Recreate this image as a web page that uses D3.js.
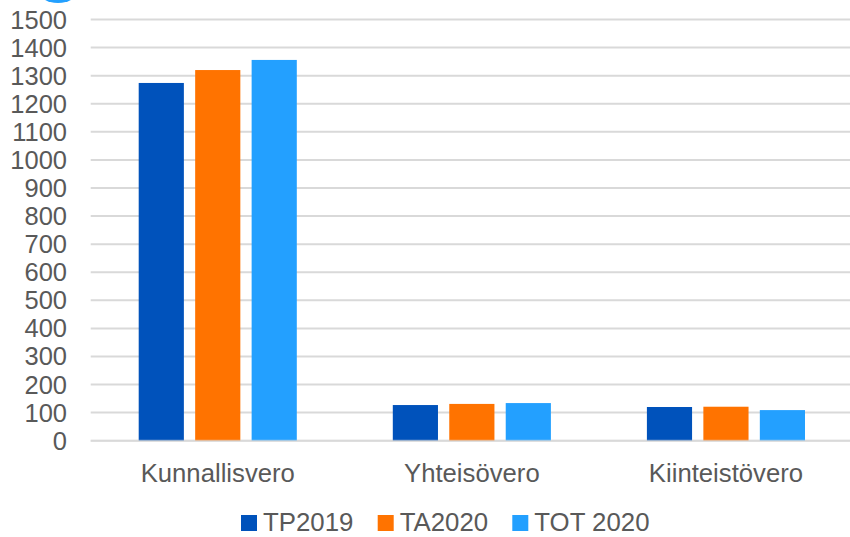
<!DOCTYPE html>
<html>
<head>
<meta charset="utf-8">
<script src="https://cdn.jsdelivr.net/npm/d3@7"></script>
<style>
  html, body { margin: 0; padding: 0; background: #fff; }
  svg { display: block; font-family: "Liberation Sans", Arial, sans-serif; }
</style>
</head>
<body>
<svg id="chart" width="850" height="537"></svg>
<script>
const categories = ["Kunnallisvero", "Yhteisövero", "Kiinteistövero"];
const seriesNames = ["TP2019", "TA2020", "TOT 2020"];
const tp2019 = [1274, 127, 120];
const ta2020 = [1320, 131, 121];
const tot2020 = [1356, 134, 109];
const yTicks = [0, 100, 200, 300, 400, 500, 600, 700, 800, 900, 1000, 1100, 1200, 1300, 1400, 1500];
const colors = ["#0052BB", "#FF7300", "#23A0FF"];

const seriesValues = [tp2019, ta2020, tot2020];
const data = categories.map((c, i) => ({
  category: c,
  values: seriesNames.map((s, j) => ({ series: s, value: seriesValues[j][i], color: colors[j] }))
}));

const svg = d3.select("#chart");
const W = 850, H = 537;
const plotLeft = 90.7, plotRight = 853;

// decorative blob at top-left (partially visible in the reference)
svg.append("ellipse")
  .attr("cx", 58).attr("cy", -10).attr("rx", 20).attr("ry", 13)
  .attr("fill", "#23A0FF");

const y = d3.scaleLinear().domain([0, 1500]).range([440.7, 19.5]);
const x0 = d3.scaleBand().domain(categories).range([plotLeft, plotRight]);
const x1 = d3.scaleBand().domain(seriesNames).range([48, x0.bandwidth() - 48]).paddingInner(0.2);

// gridlines
svg.append("g").selectAll("line")
  .data(yTicks)
  .join("line")
  .attr("x1", plotLeft).attr("x2", W)
  .attr("y1", d => y(d)).attr("y2", d => y(d))
  .attr("stroke", "#d9d9d9").attr("stroke-width", 2);

// y tick labels
svg.append("g").selectAll("text")
  .data(yTicks)
  .join("text")
  .attr("x", 67).attr("y", d => y(d) + 9)
  .attr("text-anchor", "end")
  .attr("font-size", 25.5)
  .attr("fill", "#595959")
  .text(d => d);

// bars
const groups = svg.append("g").selectAll("g")
  .data(data)
  .join("g")
  .attr("transform", d => `translate(${x0(d.category)},0)`);

groups.selectAll("rect")
  .data(d => d.values)
  .join("rect")
  .attr("x", d => x1(d.series))
  .attr("width", x1.bandwidth())
  .attr("y", d => y(d.value))
  .attr("height", d => y(0) - y(d.value))
  .attr("fill", d => d.color);

// baseline over bars
svg.append("line")
  .attr("x1", plotLeft).attr("x2", W)
  .attr("y1", y(0)).attr("y2", y(0))
  .attr("stroke", "#d9d9d9").attr("stroke-width", 2).attr("stroke-opacity", 0.6);

// category labels
svg.append("g").selectAll("text")
  .data(categories)
  .join("text")
  .attr("x", d => x0(d) + x0.bandwidth() / 2)
  .attr("y", 482)
  .attr("text-anchor", "middle")
  .attr("font-size", 25.7)
  .attr("fill", "#595959")
  .text(d => d);

// legend
const legendX = [241, 377.7, 512.3];
const legend = svg.append("g").selectAll("g")
  .data(seriesNames)
  .join("g")
  .attr("transform", (d, i) => `translate(${legendX[i]},0)`);
legend.append("rect")
  .attr("x", 0).attr("y", 515).attr("width", 16).attr("height", 16)
  .attr("fill", (d, i) => colors[i]);
legend.append("text")
  .attr("x", 22).attr("y", 531)
  .attr("font-size", 25.8)
  .attr("fill", "#595959")
  .text(d => d);
</script>
</body>
</html>
